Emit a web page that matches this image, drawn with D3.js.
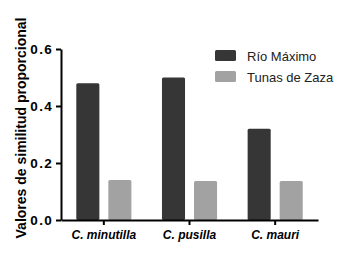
<!DOCTYPE html>
<html>
<head>
<meta charset="utf-8">
<script src="https://cdn.jsdelivr.net/npm/d3@7"></script>
<style>
  body { margin: 0; background: #fff; }
  svg { display: block; font-family: "Liberation Sans", Arial, sans-serif; }
</style>
</head>
<body>
<div id="chart"></div>
<script>
const species = ["C. minutilla", "C. pusilla", "C. mauri"];
const series = ["Río Máximo", "Tunas de Zaza"];
const rioMaximo = [0.48, 0.50, 0.32];
const tunasZaza = [0.14, 0.137, 0.137];
const yTicks = [0, 0.2, 0.4, 0.6];
const colors = ["#363636", "#a2a2a2"];

const W = 337, H = 258;
const margin = {top: 49, right: 19, bottom: 38, left: 61};
const width = W - margin.left - margin.right;
const height = H - margin.top - margin.bottom;

const svg = d3.select("#chart").append("svg")
  .attr("width", W).attr("height", H)
  .append("g")
  .attr("transform", `translate(${margin.left},${margin.top})`);

const x0 = d3.scaleBand().domain(species).range([0, width]).padding(0);
const x1 = d3.scaleBand().domain(series).range([15.3, 70.4]).paddingInner(0.28);
const y = d3.scaleLinear().domain([0, 0.6]).range([height, 0]);

const values = [rioMaximo, tunasZaza];

// bars
series.forEach(function (s, i) {
  svg.selectAll(".bar" + i)
    .data(species)
    .enter()
    .append("rect")
    .attr("x", function (d) { return x0(d) + x1(s); })
    .attr("width", x1.bandwidth())
    .attr("y", function (d, j) { return y(values[i][j]); })
    .attr("height", function (d, j) { return height - y(values[i][j]); })
    .attr("rx", 1.5)
    .style("fill", colors[i]);
});

// y axis
const yAxis = svg.append("g")
  .call(d3.axisLeft(y).tickValues(yTicks).tickFormat(d3.format(".1f")).tickSize(5).tickSizeOuter(0));
yAxis.select(".domain").attr("stroke", "#000").attr("stroke-width", 2);
yAxis.selectAll(".tick line").attr("stroke-width", 2);
yAxis.selectAll("text")
  .style("font-size", "13.5px").style("font-weight", "bold").style("letter-spacing", "1.3px")
  .attr("fill", "#000").attr("x", -8);

// x axis
const xAxis = svg.append("g")
  .attr("transform", `translate(0,${height})`)
  .call(d3.axisBottom(x0).tickSize(5).tickSizeOuter(0));
xAxis.select(".domain").attr("stroke", "#000").attr("stroke-width", 2);
xAxis.selectAll(".tick line").attr("stroke-width", 2);
xAxis.selectAll("text")
  .style("font-size", "12px").style("font-weight", "bold").style("font-style", "italic")
  .attr("fill", "#000").attr("y", 10);

// y axis title
svg.append("text")
  .attr("transform", "rotate(-90)")
  .attr("x", -79)
  .attr("y", -35)
  .attr("text-anchor", "middle")
  .style("font-size", "14px")
  .style("font-weight", "bold")
  .text("Valores de similitud proporcional");

// legend
const legend = svg.selectAll(".legend")
  .data(series)
  .enter()
  .append("g")
  .attr("transform", function (d, i) { return `translate(${215 - margin.left},${1 + i * 21})`; });

legend.append("rect")
  .attr("width", 21).attr("height", 11).attr("rx", 1.5)
  .style("fill", function (d, i) { return colors[i]; });

legend.append("text")
  .attr("x", 32).attr("y", 11)
  .style("font-size", "13px")
  .attr("fill", "#222")
  .text(function (d) { return d; });
</script>
</body>
</html>
